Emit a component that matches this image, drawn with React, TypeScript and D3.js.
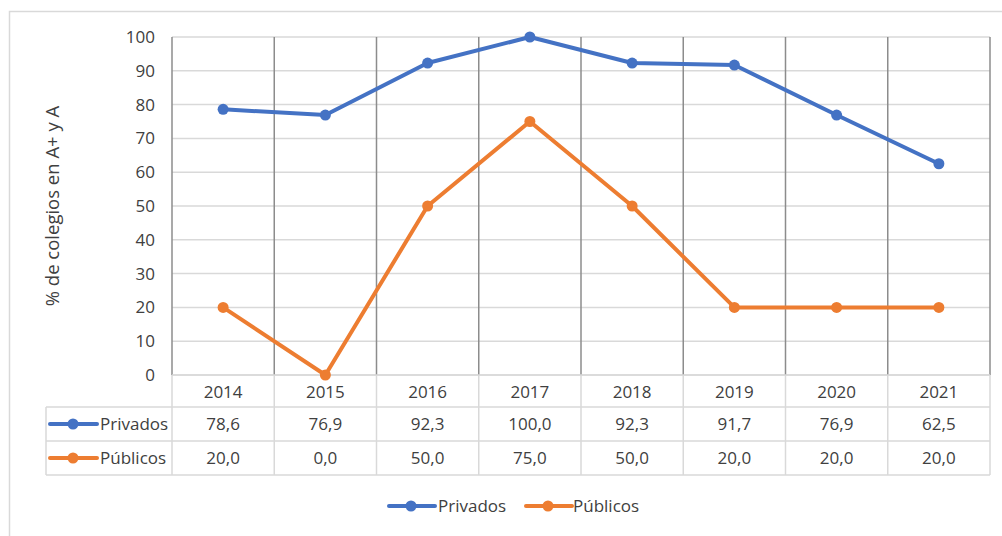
import React from "react";
import * as d3 from "d3";

const years = ["2014", "2015", "2016", "2017", "2018", "2019", "2020", "2021"];
const privados = [78.6, 76.9, 92.3, 100.0, 92.3, 91.7, 76.9, 62.5];
const publicos = [20.0, 0.0, 50.0, 75.0, 50.0, 20.0, 20.0, 20.0];
const yTicks = [0, 10, 20, 30, 40, 50, 60, 70, 80, 90, 100];
const seriesNames = ["Privados", "Públicos"];
const colors = ["#4472C4", "#ED7D31"];
const yTitle = "% de colegios en A+ y A";

const W = 1002, H = 536;
const L = 172, R = 990, T = 37, B = 375;
const rowH = [375, 407, 441, 475];
const tableLeft = 46;
const FONT = "'Open Sans', sans-serif";
const TXT = "#404040";

export default function App() {
  const x = d3.scaleBand().domain(years).range([L, R]);
  const y = d3.scaleLinear().domain([0, 100]).range([B, T]);
  const line = d3.line<number>().x((_, i) => x(years[i])! + x.bandwidth() / 2).y(d => y(d));
  const series = [privados, publicos];
  const fmt = (v: number) => v.toFixed(1).replace(".", ",");

  return (
    <svg width={W} height={H} style={{ position: "absolute", left: 0, top: 0, background: "#fff" }} fontFamily={FONT}>
      <rect x={9.5} y={11.5} width={1100} height={600} fill="#fff" stroke="#d9d9d9" strokeWidth={1.5} />
      {/* horizontal gridlines */}
      {yTicks.map(t => (
        <line key={t} x1={L} x2={R} y1={y(t)} y2={y(t)} stroke="#d9d9d9" strokeWidth={1.5} />
      ))}
      {/* vertical category separators in plot */}
      {years.map((yr, i) => (
        <line key={yr} x1={x(yr)!} x2={x(yr)!} y1={T} y2={B} stroke="#8c8c8c" strokeWidth={1.5} />
      ))}
      <line x1={R} x2={R} y1={T} y2={B} stroke="#8c8c8c" strokeWidth={1.5} />
      {/* y tick labels */}
      {yTicks.map(t => (
        <text key={t} x={155} y={y(t)} dy="0.35em" textAnchor="end" fontSize={17} fill={TXT}>{t}</text>
      ))}
      <text transform={`translate(59,${206}) rotate(-90)`} textAnchor="middle" fontSize={18.5} fill={TXT}>{yTitle}</text>
      {/* data table */}
      {[rowH[0], rowH[1], rowH[2], rowH[3]].map((yy, i) => (
        <line key={"h" + i} x1={i === 0 ? L : tableLeft} x2={R} y1={yy} y2={yy} stroke="#d9d9d9" strokeWidth={1.5} />
      ))}
      <line x1={tableLeft} x2={tableLeft} y1={rowH[1]} y2={rowH[3]} stroke="#d9d9d9" strokeWidth={1.5} />
      {years.map(yr => (
        <line key={"v" + yr} x1={x(yr)!} x2={x(yr)!} y1={rowH[0]} y2={rowH[3]} stroke="#d9d9d9" strokeWidth={1.5} />
      ))}
      <line x1={R} x2={R} y1={rowH[0]} y2={rowH[3]} stroke="#d9d9d9" strokeWidth={1.5} />
      {years.map(yr => (
        <text key={"y" + yr} x={x(yr)! + x.bandwidth() / 2} y={(rowH[0] + rowH[1]) / 2 + 1} dy="0.35em" textAnchor="middle" fontSize={17} fill={TXT}>{yr}</text>
      ))}
      {series.map((s, si) => (
        <g key={"row" + si}>
          <line x1={50} x2={97} y1={(rowH[si + 1] + rowH[si + 2]) / 2} y2={(rowH[si + 1] + rowH[si + 2]) / 2} stroke={colors[si]} strokeWidth={4} strokeLinecap="round" />
          <circle cx={73} cy={(rowH[si + 1] + rowH[si + 2]) / 2} r={5.5} fill={colors[si]} />
          <text x={100} y={(rowH[si + 1] + rowH[si + 2]) / 2} dy="0.35em" fontSize={17} fill={TXT}>{seriesNames[si]}</text>
          {s.map((v, i) => (
            <text key={i} x={x(years[i])! + x.bandwidth() / 2} y={(rowH[si + 1] + rowH[si + 2]) / 2} dy="0.35em" textAnchor="middle" fontSize={17} fill={TXT}>{fmt(v)}</text>
          ))}
        </g>
      ))}
      {/* lines */}
      {series.map((s, si) => (
        <g key={"s" + si}>
          <path d={line(s)!} fill="none" stroke={colors[si]} strokeWidth={4} strokeLinejoin="round" />
          {s.map((v, i) => (
            <circle key={i} cx={x(years[i])! + x.bandwidth() / 2} cy={y(v)} r={5.5} fill={colors[si]} />
          ))}
        </g>
      ))}
      {/* legend */}
      {[{ x0: 389, tx: 438 }, { x0: 526, tx: 573 }].map((lg, si) => (
        <g key={"lg" + si}>
          <line x1={lg.x0} x2={lg.x0 + 46} y1={506} y2={506} stroke={colors[si]} strokeWidth={4} strokeLinecap="round" />
          <circle cx={lg.x0 + 22} cy={506} r={5.5} fill={colors[si]} />
          <text x={lg.tx} y={506} dy="0.35em" fontSize={17} fill={TXT}>{seriesNames[si]}</text>
        </g>
      ))}
    </svg>
  );
}
